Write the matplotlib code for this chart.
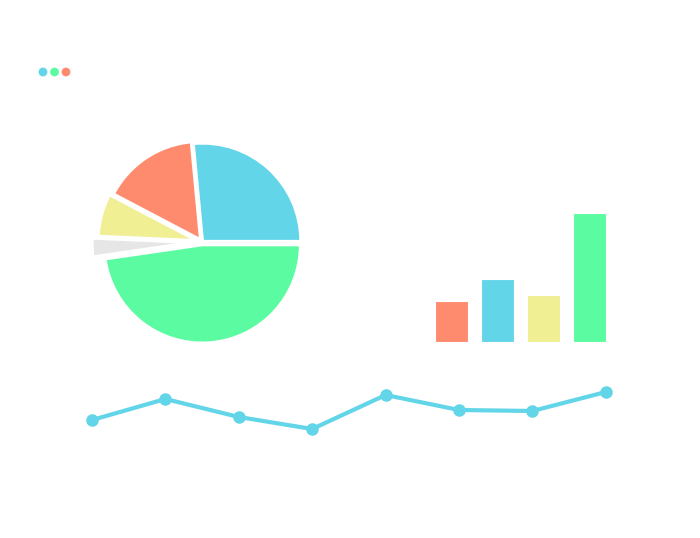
import matplotlib
matplotlib.use('Agg')
from matplotlib import pyplot as plt

W, H = 700, 538

cyan = '#63d5e8'
green = '#5bfba1'
orange = '#ff8b6f'
yellow = '#f0ef94'
grey = '#e6e6e6'

# pie shares (percent), counter-clockwise from 3 o'clock
pie_shares = [26.5, 15.8, 7.0, 3.0, 47.7]
pie_colors = [cyan, orange, yellow, grey, green]
pie_explode = [0.01, 0.03, 0.06, 0.12, 0.03]

# bars
bar_values = [41, 63, 47, 129]
bar_colors = [orange, cyan, yellow, green]

# line
line_values = [30, 51, 33, 21, 55, 40, 39, 58]

# window dots
dot_colors = [cyan, green, orange]


def px_axes(fig, left, top, width, height):
    return fig.add_axes([left / W, 1 - (top + height) / H, width / W, height / H])


fig = plt.figure(figsize=(7, 5.38), dpi=100)
fig.patch.set_facecolor('white')

# pie
r = 98
cx, cy = 202, 242
ax = px_axes(fig, cx - 1.25 * r, cy - 1.25 * r, 2.5 * r, 2.5 * r)
ax.pie(pie_shares, colors=pie_colors, explode=pie_explode, startangle=0,
       wedgeprops=dict(edgecolor='white', linewidth=2))
ax.set_xlim(-1.25, 1.25)
ax.set_ylim(-1.25, 1.25)
ax.set_aspect('equal')
ax.axis('off')

# bars
ax = px_axes(fig, 428.5, 202, 184, 140)
ax.bar(range(len(bar_values)), bar_values, width=0.72, color=bar_colors,
       edgecolor='white', linewidth=0.8)
ax.set_xlim(-0.5, 3.5)
ax.set_ylim(0, 140)
ax.axis('off')

# line
ax = px_axes(fig, 55.3, 390, 587.2, 60)
ax.plot(range(len(line_values)), line_values, color=cyan, linewidth=3,
        marker='o', markersize=8, clip_on=False)
ax.set_xlim(-0.5, 7.5)
ax.set_ylim(0, 60)
ax.axis('off')

# dots
ax = px_axes(fig, 31.5, 62, 46, 20)
ax.scatter(range(len(dot_colors)), [0] * len(dot_colors), s=40, c=dot_colors,
           linewidths=0, clip_on=False)
ax.set_xlim(-1, 3)
ax.set_ylim(-1, 1)
ax.axis('off')

fig.savefig('out.png', dpi=100, facecolor='white')
